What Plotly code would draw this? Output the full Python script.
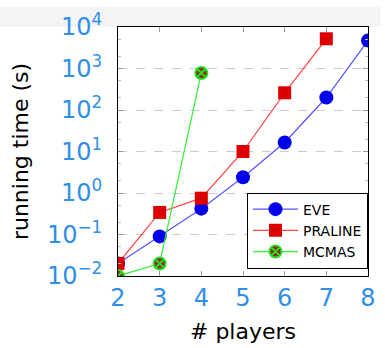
import plotly.graph_objects as go

players = [2, 3, 4, 5, 6, 7, 8]
eve = [0.02, 0.09, 0.42, 2.4, 16.5, 200, 4700]
praline_players = [2, 3, 4, 5, 6, 7]
praline = [0.02, 0.34, 0.75, 10, 260, 5200]
mcmas_players = [2, 3, 4]
mcmas = [0.01, 0.02, 780]

y_tickvals = [1e-2, 1e-1, 1, 10, 100, 1000, 10000]
y_ticktext = ["10<sup>\u22122</sup>", "10<sup>\u22121</sup>", "10<sup>0</sup>",
              "10<sup>1</sup>", "10<sup>2</sup>", "10<sup>3</sup>", "10<sup>4</sup>"]

tick_blue = "#2f8fe8"
font_family = "DejaVu Sans"

fig = go.Figure()
fig.add_trace(go.Scatter(
    x=players, y=eve, name="EVE", mode="lines+markers",
    line=dict(color="#5555ff", width=1.2),
    marker=dict(symbol="circle", size=14, color="#0000ee"),
))
fig.add_trace(go.Scatter(
    x=praline_players, y=praline, name="PRALINE", mode="lines+markers",
    line=dict(color="#ff4444", width=1.2),
    marker=dict(symbol="square", size=13, color="#dd0000"),
))
fig.add_trace(go.Scatter(
    x=mcmas_players, y=mcmas, name="MCMAS", mode="lines+markers",
    line=dict(color="#33ee33", width=1.2),
    marker=dict(symbol="circle-x", size=12, color="#9b2020",
                line=dict(color="#22dd22", width=2)),
))

fig.add_shape(type="rect", xref="paper", yref="paper",
              x0=-0.5, x1=1.05, y0=1.0, y1=1.08,
              fillcolor="#f4f4f4", line=dict(width=0), layer="below")

fig.update_layout(
    width=385, height=348,
    margin=dict(l=118, r=9, t=19, b=70),
    paper_bgcolor="white", plot_bgcolor="white",
    font=dict(family=font_family, color="black"),
    showlegend=True,
    legend=dict(
        x=1.0, y=0.03, xanchor="right", yanchor="bottom",
        bgcolor="white", bordercolor="black", borderwidth=1,
        font=dict(size=14, family=font_family),
        tracegroupgap=0, itemwidth=45,
    ),
    xaxis=dict(
        range=[2, 8], tickvals=players, ticktext=[str(p) for p in players],
        tickfont=dict(size=24, color=tick_blue, family=font_family),
        ticks="inside", ticklen=5, tickcolor="#999999",
        showline=True, linecolor="black", linewidth=1, mirror="ticks",
        showgrid=False, zeroline=False,
        title=dict(text="# players", font=dict(size=22), standoff=12),
    ),
    yaxis=dict(
        type="log", range=[-2, 4],
        tickvals=y_tickvals, ticktext=y_ticktext,
        tickfont=dict(size=24, color=tick_blue, family=font_family),
        ticklabelstandoff=10,
        ticks="inside", ticklen=5, tickcolor="#999999",
        minor=dict(ticks="inside", ticklen=3, tickcolor="#bbbbbb", showgrid=False),
        showline=True, linecolor="black", linewidth=1, mirror="ticks",
        showgrid=True, gridcolor="#cccccc", griddash="dash", gridwidth=1,
        zeroline=False,
        title=dict(text="running time (s)", font=dict(size=22), standoff=12),
    ),
)

fig.write_html("out.html")
